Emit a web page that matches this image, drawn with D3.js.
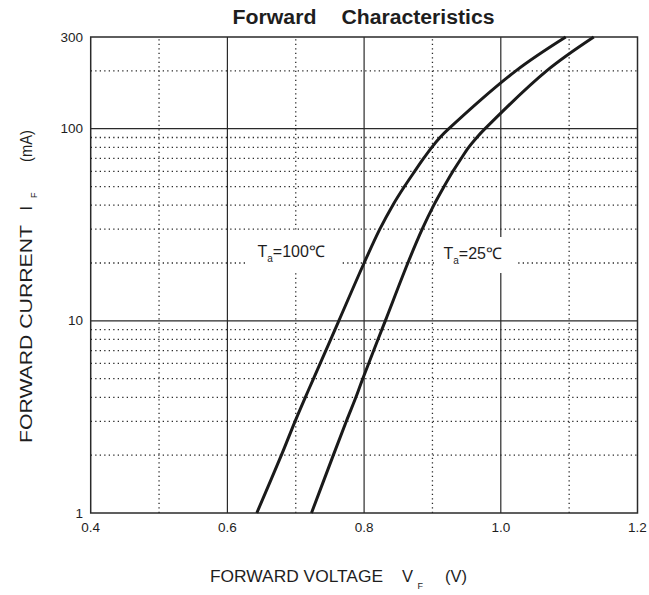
<!DOCTYPE html>
<html>
<head>
<meta charset="utf-8">
<script src="https://cdn.jsdelivr.net/npm/d3@7"></script>
<style>
  body { margin: 0; background: #fff; }
  svg { display: block; font-family: "Liberation Sans", Arial, sans-serif; }
</style>
</head>
<body>
<svg id="chart" width="649" height="595"></svg>
<script>
// ---- data ----
const currents = [1, 2, 3, 4, 5, 10, 20, 30, 40, 50, 60, 70, 80, 90, 100, 200, 300];           // mA
const vf100 = [0.643, 0.679, 0.699, 0.714, 0.726, 0.763, 0.800, 0.823, 0.842, 0.859, 0.874, 0.887, 0.899, 0.911, 0.924, 1.022, 1.095];
const vf25  = [0.723, 0.755, 0.774, 0.788, 0.798, 0.831, 0.864, 0.885, 0.902, 0.917, 0.930, 0.942, 0.953, 0.965, 0.977, 1.067, 1.136];
const xTicks = [0.4, 0.6, 0.8, 1.0, 1.2];
const xTickLabels = ["0.4", "0.6", "0.8", "1.0", "1.2"];
const xMinor = [0.5, 0.7, 0.9, 1.1];
const yTicks = [1, 10, 100, 300];
const yTickLabels = ["1", "10", "100", "300"];
const yMajorGrid = [10, 100];
const yMinor = [2, 3, 4, 5, 6, 7, 8, 9, 20, 30, 40, 50, 60, 70, 80, 90, 200];

const svg = d3.select("#chart");
const x = d3.scaleLinear().domain([0.4, 1.2]).range([90.7, 637.5]);
const y = d3.scaleLog().domain([1, 300]).range([513, 37]);
const [x0, x1] = x.range();
const [y0, y1] = y.range();
const ink = "#2a2a2a";
const txt = "#1e1e1e";

// minor dotted grid
svg.append("g").selectAll("line").data(xMinor).join("line")
  .attr("x1", d => x(d)).attr("x2", d => x(d)).attr("y1", y0).attr("y2", y1)
  .attr("stroke", ink).attr("stroke-width", 1.3).attr("stroke-dasharray", "1.3,3.2");
svg.append("g").selectAll("line").data(yMinor).join("line")
  .attr("x1", x0).attr("x2", x1).attr("y1", d => y(d)).attr("y2", d => y(d))
  .attr("stroke", ink).attr("stroke-width", 1.3).attr("stroke-dasharray", "1.3,3.2");

// major solid grid
svg.append("g").selectAll("line").data(xTicks.slice(1, -1)).join("line")
  .attr("x1", d => x(d)).attr("x2", d => x(d)).attr("y1", y0).attr("y2", y1)
  .attr("stroke", ink).attr("stroke-width", 1.2);
svg.append("g").selectAll("line").data(yMajorGrid).join("line")
  .attr("x1", x0).attr("x2", x1).attr("y1", d => y(d)).attr("y2", d => y(d))
  .attr("stroke", ink).attr("stroke-width", 1.2);

// frame
svg.append("rect").attr("x", x0).attr("y", y1).attr("width", x1 - x0).attr("height", y0 - y1)
  .attr("fill", "none").attr("stroke", ink).attr("stroke-width", 1.5);

// label backgrounds
svg.append("rect").attr("x", 247).attr("y", 231).attr("width", 94).attr("height", 39).attr("fill", "#fff");
svg.append("rect").attr("x", 434).attr("y", 237).attr("width", 81).attr("height", 36).attr("fill", "#fff");

// curves
const line = d3.line().x(d => x(d[0])).y(d => y(d[1])).curve(d3.curveCatmullRom.alpha(0.5));
[vf100, vf25].forEach(vs => {
  svg.append("path").datum(vs.map((v, i) => [v, currents[i]]))
    .attr("d", line).attr("fill", "none").attr("stroke", "#1a1a1a").attr("stroke-width", 3)
    .attr("stroke-linecap", "butt");
});

// tick labels
svg.append("g").selectAll("text").data(xTicks).join("text")
  .attr("x", d => x(d)).attr("y", 532).attr("text-anchor", "middle")
  .attr("font-size", 13.5).attr("fill", txt).text((d, i) => xTickLabels[i]);
svg.append("g").selectAll("text").data(yTicks).join("text")
  .attr("x", 83).attr("y", d => y(d) + 4.5).attr("text-anchor", "end")
  .attr("font-size", 13.5).attr("fill", txt).text((d, i) => yTickLabels[i]);

// title
svg.append("text").attr("x", 232.5).attr("y", 24).attr("font-size", 19.5).attr("font-weight", "bold")
  .attr("fill", txt).attr("textLength", 84).attr("lengthAdjust", "spacingAndGlyphs").text("Forward");
svg.append("text").attr("x", 341.5).attr("y", 24).attr("font-size", 19.5).attr("font-weight", "bold")
  .attr("fill", txt).attr("textLength", 153).attr("lengthAdjust", "spacingAndGlyphs").text("Characteristics");

// curve labels
function tempLabel(px, py, rest) {
  const t = svg.append("text").attr("x", px).attr("y", py).attr("font-size", 16).attr("fill", txt);
  t.append("tspan").text("T");
  t.append("tspan").attr("font-size", 10).attr("dy", 5).text("a");
  t.append("tspan").attr("dy", -5).text(rest);
}
tempLabel(257.5, 257, "=100℃");
tempLabel(443.5, 258.5, "=25℃");

// x axis title
svg.append("text").attr("x", 210).attr("y", 582).attr("font-size", 16.5).attr("fill", txt)
  .attr("textLength", 173).attr("lengthAdjust", "spacingAndGlyphs").text("FORWARD VOLTAGE");
svg.append("text").attr("x", 402).attr("y", 582).attr("font-size", 16.5).attr("fill", txt).text("V");
svg.append("text").attr("x", 417.5).attr("y", 588.5).attr("font-size", 9).attr("fill", txt).text("F");
svg.append("text").attr("x", 445).attr("y", 582).attr("font-size", 16.5).attr("fill", txt)
  .attr("textLength", 22).attr("lengthAdjust", "spacingAndGlyphs").text("(V)");

// y axis title
const yt = svg.append("g").attr("transform", "rotate(-90)");
yt.append("text").attr("x", -443).attr("y", 32).attr("font-size", 16.5).attr("fill", txt)
  .attr("textLength", 218).attr("lengthAdjust", "spacingAndGlyphs").text("FORWARD CURRENT");
yt.append("text").attr("x", -210.5).attr("y", 32).attr("font-size", 16.5).attr("fill", txt).text("I");
yt.append("text").attr("x", -198).attr("y", 37).attr("font-size", 9).attr("fill", txt).text("F");
yt.append("text").attr("x", -162).attr("y", 32).attr("font-size", 16.5).attr("fill", txt)
  .attr("textLength", 32).attr("lengthAdjust", "spacingAndGlyphs").text("(mA)");
</script>
</body>
</html>
